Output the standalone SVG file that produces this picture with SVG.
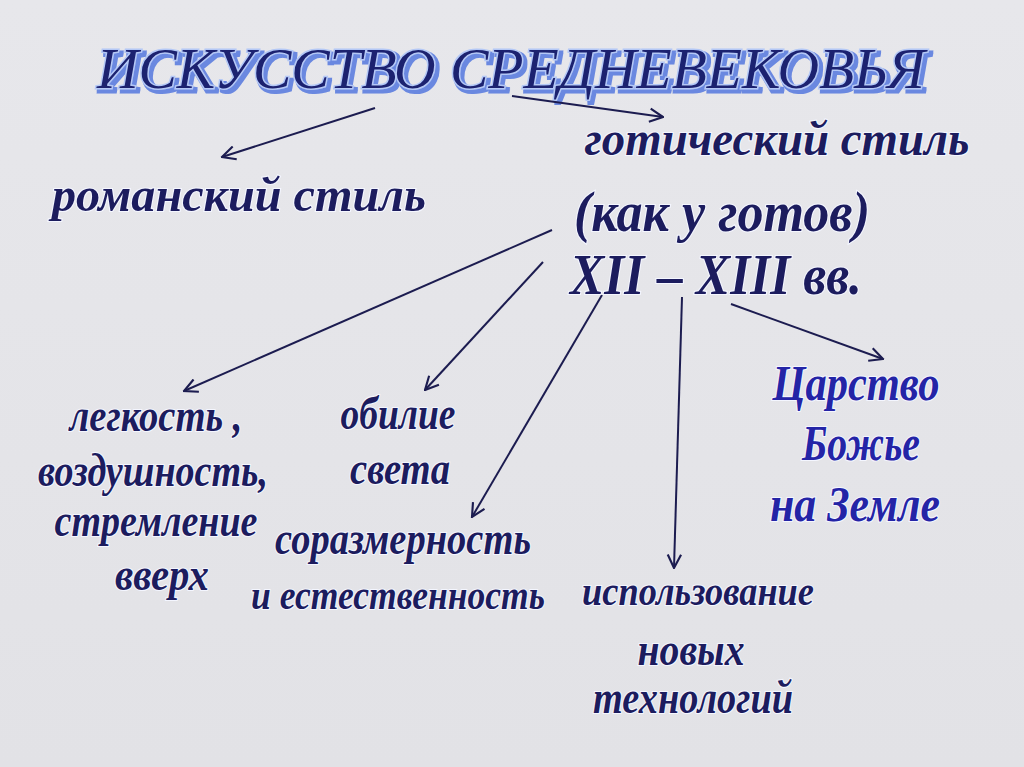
<svg xmlns="http://www.w3.org/2000/svg" width="1024" height="767" viewBox="0 0 1024 767">
<defs>
<style>
.t{font-family:"Liberation Serif","DejaVu Serif",serif;font-style:italic;font-weight:bold;fill:#1c1c5e;stroke:#f4f6ff;stroke-width:2.2;paint-order:stroke;text-anchor:middle}
.b{fill:#2424a6}
.ttl{font-family:"Liberation Serif","DejaVu Serif",serif;font-style:italic;text-anchor:middle;font-size:58px}
.c{fill:none;stroke:#1c1c50;stroke-width:2}
</style>
<filter id="sh" x="-5%" y="-20%" width="110%" height="150%">
<feMorphology in="SourceAlpha" operator="dilate" radius="1" result="d"/>
<feOffset in="d" dx="3" dy="3" result="o"/>
<feFlood flood-color="#6a88e0"/>
<feComposite in2="o" operator="in" result="s"/>
<feMerge><feMergeNode in="s"/><feMergeNode in="SourceGraphic"/></feMerge>
</filter>
<marker id="ah" markerUnits="userSpaceOnUse" markerWidth="16" markerHeight="16" viewBox="0 0 12 12" refX="11" refY="6" orient="auto">
<path d="M1,1 L11,6 L1,11" fill="none" stroke="#1c1c50" stroke-width="1.6"/>
</marker>
<linearGradient id="bg" x1="0" y1="0" x2="0" y2="1">
<stop offset="0" stop-color="#e7e7eb"/>
<stop offset="1" stop-color="#e2e2e6"/>
</linearGradient>
</defs>
<rect width="1024" height="767" fill="url(#bg)"/>
<g id="title">
<text class="ttl" x="511" y="88" textLength="828" lengthAdjust="spacingAndGlyphs" fill="#1a2070" stroke="#b4c8f6" stroke-width="3" paint-order="stroke" filter="url(#sh)">ИСКУССТВО СРЕДНЕВЕКОВЬЯ</text>
</g>
<g id="connectors">
<line class="c" x1="375" y1="108" x2="222" y2="157" marker-end="url(#ah)"/>
<line class="c" x1="512" y1="96" x2="663" y2="117" marker-end="url(#ah)"/>
<line class="c" x1="552" y1="230" x2="184" y2="391" marker-end="url(#ah)"/>
<line class="c" x1="543" y1="262" x2="425" y2="390" marker-end="url(#ah)"/>
<line class="c" x1="602" y1="295" x2="472" y2="517" marker-end="url(#ah)"/>
<line class="c" x1="682" y1="297" x2="674" y2="568" marker-end="url(#ah)"/>
<line class="c" x1="731" y1="304" x2="883" y2="359" marker-end="url(#ah)"/>
</g>
<g id="gothic">
<text class="t" x="777" y="155" font-size="48" textLength="385" lengthAdjust="spacingAndGlyphs">готический стиль</text>
<text class="t" x="722" y="231" font-size="56" textLength="296" lengthAdjust="spacingAndGlyphs">(как у  готов)</text>
<text class="t" x="716" y="294" font-size="56" textLength="292" lengthAdjust="spacingAndGlyphs">XII – XIII вв.</text>
</g>
<g id="romanesque">
<text class="t" x="239" y="211" font-size="48" textLength="374" lengthAdjust="spacingAndGlyphs">романский стиль</text>
</g>
<g id="lightness">
<text class="t" x="156" y="431" font-size="46" textLength="173" lengthAdjust="spacingAndGlyphs">легкость ,</text>
<text class="t" x="153" y="486" font-size="46" textLength="230" lengthAdjust="spacingAndGlyphs">воздушность,</text>
<text class="t" x="156" y="536" font-size="46" textLength="203" lengthAdjust="spacingAndGlyphs">стремление</text>
<text class="t" x="162" y="590" font-size="46" textLength="94" lengthAdjust="spacingAndGlyphs">вверх</text>
</g>
<g id="light">
<text class="t" x="398" y="429" font-size="46" textLength="115" lengthAdjust="spacingAndGlyphs">обилие</text>
<text class="t" x="400" y="484" font-size="46" textLength="100" lengthAdjust="spacingAndGlyphs">света</text>
</g>
<g id="proportion">
<text class="t" x="403" y="554" font-size="46" textLength="256" lengthAdjust="spacingAndGlyphs">соразмерность</text>
<text class="t" x="398" y="609" font-size="42" textLength="294" lengthAdjust="spacingAndGlyphs">и естественность</text>
</g>
<g id="tech">
<text class="t" x="698" y="605" font-size="42" textLength="232" lengthAdjust="spacingAndGlyphs">использование</text>
<text class="t" x="691" y="665" font-size="46" textLength="107" lengthAdjust="spacingAndGlyphs">новых</text>
<text class="t" x="693" y="713" font-size="46" textLength="200" lengthAdjust="spacingAndGlyphs">технологий</text>
</g>
<g id="kingdom">
<text class="t b" x="856" y="400" font-size="50" textLength="167" lengthAdjust="spacingAndGlyphs">Царство</text>
<text class="t b" x="861" y="460" font-size="50" textLength="118" lengthAdjust="spacingAndGlyphs">Божье</text>
<text class="t b" x="855" y="521" font-size="50" textLength="170" lengthAdjust="spacingAndGlyphs">на Земле</text>
</g>
</svg>
